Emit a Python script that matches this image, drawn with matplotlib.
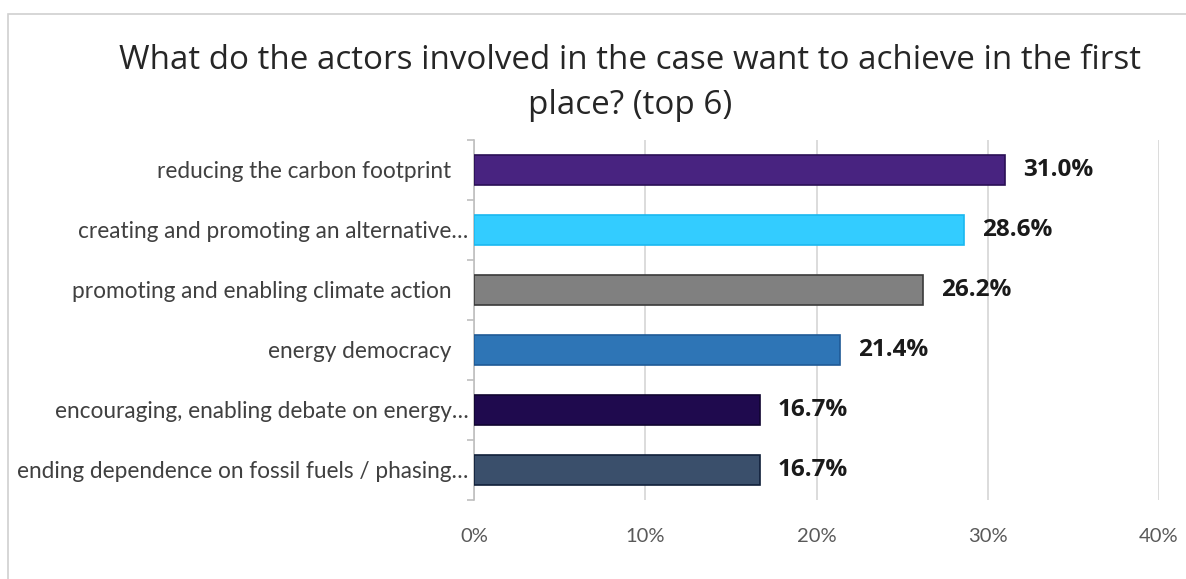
import matplotlib
matplotlib.use("Agg")
import matplotlib.pyplot as plt
from matplotlib.patches import Rectangle

categories = [
    "reducing the carbon footprint",
    "creating and promoting an alternative\u2026",
    "promoting and enabling climate action",
    "energy democracy",
    "encouraging, enabling debate on energy\u2026",
    "ending dependence on fossil fuels / phasing\u2026",
]
values = [31.0, 28.6, 26.2, 21.4, 16.7, 16.7]
bar_colors = ["#482380", "#33CCFF", "#808080", "#2E75B6", "#1F0A4E", "#3A4F6B"]
edge_colors = ["#2A0F55", "#1AB8F0", "#3A3A3A", "#1F5A96", "#100530", "#10203A"]
x_ticks = [0, 10, 20, 30, 40]
x_tick_labels = ["0%", "10%", "20%", "30%", "40%"]
title = "What do the actors involved in the case want to achieve in the first\nplace? (top 6)"

W, H = 1186, 579
fig = plt.figure(figsize=(W / 100, H / 100), dpi=100)
fig.patch.set_facecolor("white")

# light frame around the chart area
fig.add_artist(Rectangle((8 / W, -0.1), 1.2, (H - 14) / H + 0.1,
                         transform=fig.transFigure, fill=False,
                         edgecolor="#D0D0D0", linewidth=1.2))

ax = fig.add_axes([474 / W, 1 - 500 / H, (1159 - 474) / W, 360 / H])
y = list(range(len(categories)))
ax.barh(y, values, height=0.5, color=bar_colors, edgecolor=edge_colors,
        linewidth=1.2, zorder=3)
ax.set_ylim(len(categories) - 0.5, -0.5)
ax.set_xlim(0, 40)

ax.set_xticks(x_ticks)
ax.set_xticklabels(x_tick_labels, fontfamily="Lato", fontsize=14.5, color="#595959")
ax.tick_params(axis="x", length=0, pad=20)
ax.xaxis.grid(True, color="#D9D9D9", linewidth=1.3, zorder=0)

# full labels sit a little further from the axis than the truncated ones
tick_texts = [c if c.endswith("\u2026") else c + "   " for c in categories]
ax.set_yticks(y)
ax.set_yticklabels(tick_texts, fontfamily="Lato", fontsize=16.3, color="#404040")
ax.tick_params(axis="y", which="major", length=0, pad=4)
ax.set_yticks([i - 0.5 for i in range(len(categories) + 1)], minor=True)
ax.tick_params(axis="y", which="minor", length=5, color="#BFBFBF", width=1.2)

for s in ["top", "right", "bottom"]:
    ax.spines[s].set_visible(False)
ax.spines["left"].set_color("#BFBFBF")
ax.spines["left"].set_linewidth(1.2)

for yi, v in zip(y, values):
    ax.annotate(f"{v:.1f}%", (v, yi), xytext=(13, 0), textcoords="offset points",
                ha="left", va="center", fontsize=17.5, fontweight="bold",
                fontfamily="Open Sans", color="#1A1A1A")

fig.text(630 / W, 1 - 83 / H, title, ha="center", va="center",
         fontfamily="Open Sans", fontsize=23.9, color="#262626", linespacing=1.5)

fig.savefig("out.png", dpi=100)
